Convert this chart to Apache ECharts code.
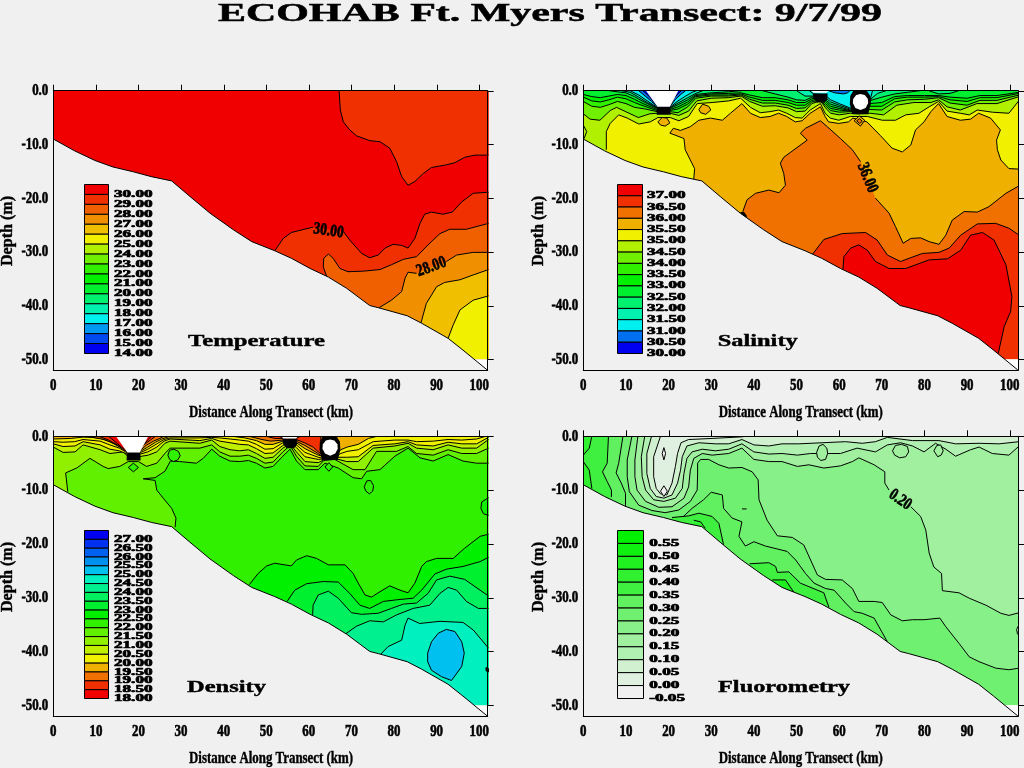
<!DOCTYPE html>
<html><head><meta charset="utf-8">
<style>html,body{margin:0;padding:0;background:#f0f0f0}#c{width:1024px;height:768px}</style>
<script src="https://cdn.jsdelivr.net/npm/echarts@6/dist/echarts.min.js"></script>
</head><body><div id="c"></div>
<script>
// ---------- axis values ----------
const xTicks=[0,10,20,30,40,50,60,70,80,90,100];
const yTicks=[0,-10,-20,-30,-40,-50];
// ---------- sea floor ----------
const seafloor=[[0,-9],[5,-11.2],[9.8,-13],[14,-14.2],[18.8,-15.1],[23,-16],[27.8,-16.8],[32.1,-19.7],[36.8,-22.8],[42.3,-25.9],[46.6,-28.1],[52,-29.8],[55.9,-31.2],[60.3,-33.1],[64.6,-34.7],[68.9,-36.8],[74.3,-40],[76.3,-40.4],[83.1,-41.9],[86.5,-43.3],[92.7,-46.1],[96.2,-48.3],[101.9,-52]];
// null = break in the contour line; the run after the last null only closes the fill.
const water=[null,[0,0],[102.2,0],[102.2,-50],[0,-50]];
const belowData=[null,[85,-50],[102.2,-50],[102.2,-53],[85,-53]];
const land=[...seafloor,null,[102.5,-60],[0,-60]];
const holeA=[null,[14.7,0],[17.4,-3],[20.3,-3],[22.3,0]];
const blobA=[null,[17.3,-3],[20.4,-3],[20.5,-4.5],[17.2,-4.5]];
const holeB=[null,[53.5,0],[54,-0.4],[57,-0.4],[57.5,0]];
const blobB=[null,[53.8,-0.5],[57.3,-0.5],[57.2,-1.6],[56.5,-2.2],[54.8,-2.2],[54,-1.5]];
const blobC=[null,[63.3,0],[62.6,-1],[62.5,-2.5],[63.1,-4.4],[66.8,-4.4],[67.4,-2.5],[67.3,-1],[66.5,0]];
const holeC=[null,[65,-0.6],[64,-0.8],[63.3,-1.5],[63.2,-2.3],[63.8,-3.2],[65,-3.6],[66.2,-3.2],[66.8,-2.3],[66.7,-1.5],[66,-0.8]];
const loop=r=>[...r,r[0],null];

// ---------- temperature contours ----------
const t29a=[[67.1,0],[67.4,-3.6],[68.1,-5.8],[69.6,-7.3],[71.2,-8.4],[74.3,-9.3],[76.7,-9.5],[79,-10.7],[80.6,-13.2],[81.8,-16],[83.3,-17.6],[84.9,-16.9],[86.9,-15.4],[88.8,-14.3],[92.3,-13.8],[94.3,-13.4],[96.6,-12.4],[99,-12],[102.2,-12],null,[102.2,0]];
const t29b=[[52,-29.8],[54,-27.5],[55.9,-26.4],[61,-25.4],null,[68.1,-26.2],[69.6,-27.8],[72.4,-30.3],[74.3,-31.1],[76.3,-30.6],[77.9,-29.3],[79.8,-28.6],[81.8,-28.8],[83.3,-29.3],[84.9,-27.5],[86.1,-24.7],[87.2,-23],[88.8,-22.6],[91.5,-23],[93.7,-22.6],[95.9,-20.7],[98.6,-19.1],[102.2,-18.9],null,[102.2,-50],[52,-50]];
const t28=[[64.2,-34.6],[63.4,-32.8],[63.5,-31.2],[64.6,-30.4],[65.7,-31.2],[67.3,-33.1],[69.2,-33.7],[72.8,-33.6],[76.7,-33.3],[79.4,-32.4],[82.2,-31.4],[85.3,-30.9],[88,-28.7],[90.8,-26.6],[93.1,-25.8],[97,-25.8],[102.2,-24.7],null,[102.2,-50],[64.2,-50]];
const t27=[[76.5,-40.4],[79.4,-39],[81.8,-37.4],[82.6,-34.9],[83.3,-33.8],[85.3,-34],null,[92.3,-31.8],[94.7,-30.6],[98.6,-30.1],[102.2,-30.1],null,[102.2,-50],[76.5,-50]];
const t26=[[86.3,-43.3],[87.6,-39.6],[90,-36.5],[91.9,-35.7],[95.5,-35.2],[98.6,-34.3],[102.2,-33.3],null,[102.2,-50],[86.3,-50]];
const t25=[[92.7,-46.1],[93.9,-43.6],[95.5,-40.8],[98.6,-39],[102.2,-38.2],null,[102.2,-50],[92.7,-50]];

// ---------- salinity contours ----------
const s35=[[25.9,-16.5],[26.1,-14.5],[23.9,-11],[23.6,-8.9],[20.3,-7.9],[21.1,-7],[22.8,-7.4],[25.1,-6.7],[27.1,-5.5],[29.8,-5.1],[32.6,-5.5],[34.5,-4.2],[37.2,-2.4],[39.2,-4.2],[41.5,-5],[43.8,-4.8],[45.8,-4.2],[47.7,-4.8],[49.7,-5.8],[51.3,-5.6],[53.2,-4.2],[55.6,-3],[56.7,-4.8],[57.5,-5.8],[59.9,-6.1],[62.2,-5.8],[63.2,-5.1],[66.5,-5.8],[69.6,-8.3],[72.4,-10.7],[74.8,-11.4],[76.8,-10.1],[77.9,-7.3],[79.9,-5.8],[81.5,-3.9],[83.3,-2.4],[85.3,-4.8],[88.4,-5.5],[90.8,-5.3],[92.7,-4.2],[95.5,-5.1],[97.8,-7.3],[96.9,-9.2],[97.1,-11],[97.9,-12.9],[99.8,-14.5],[102.2,-14.6],null,[102.2,0],[0,0],[0,-20],[25.9,-20]];
const s34h=[[5.4,-11],[5.4,-7.6],[6.3,-6.1],[8.3,-4.5],[10.3,-5.1],[13,-6.2],[15.7,-5.8],[17.5,-5],[20.4,-5],[22.4,-5.6],[24.7,-4.8],[26.7,-2.4],[30.2,-2.2],[34.1,-1.9],[36.9,-1.4],[39.2,-3.1],[41.5,-4.1],[43.8,-3.9],[45.8,-3.6],[47.7,-4.2],[49.7,-5],[51.3,-5.1],[53.2,-3.6],[55.6,-2.4],[56.7,-4.2],[57.9,-5.1],[59.9,-5.5],[62.6,-4.8],[66.6,-4.8],[70.1,-5.5],[73.2,-5.5],[75.6,-4.5],[78.7,-4.2],[81.1,-3],[83.3,-2],[85.3,-3.8],[88.4,-4.2],[90.5,-4.5],[92.4,-3.6],[95.9,-4],[99.8,-4.2],[102.2,-1.8],null,[102.2,0],[0,0],[0,-20],[5.4,-20]];
const s34=[[0,-4.3],[1.6,-5.3],[3.9,-5.5],[6.3,-3.7],[7.8,-3.1],[10.2,-4],[12.9,-5],[15.6,-4.3],[17.3,-4.2],[20.3,-4.2],[22.4,-4.6],[24.7,-3.8],[26.6,-1.9],[30,-1.4],[34,-1.3],[37,-1],[39,-2],[42,-2.9],[45,-2.8],[48,-3.2],[50,-3.9],[52,-3.8],[53.6,-2.4],[55.6,-1.9],[56.8,-3.2],[58,-4.2],[60,-4.5],[62.6,-4.2],[64.6,-4.3],[67.3,-4.2],[70.4,-4.5],[73.5,-2.7],[77.5,-2.2],[81.5,-2.2],[83.3,-1.7],[85.3,-3],[88.4,-3.6],[92.3,-2.4],[97,-2.4],[102.2,-1.1],null,[102.2,0],[0,0]];
const s33h=[[0,-2],[2,-2.9],[4,-3.1],[6,-2.6],[8,-2],[10,-2.4],[12,-3.1],[14.5,-3.4],[17.3,-3.9],[20.3,-3.9],[22.2,-4.1],[24.5,-3],[26.4,-1.4],[30,-1],[34,-1],[37,-0.8],[39,-1.6],[42,-2.3],[45,-2.3],[48,-2.7],[50,-3.3],[52,-3.2],[53.6,-2.1],[55.6,-1.7],[56.8,-2.8],[58,-3.7],[60,-4],[62.6,-3.9],[64.6,-4.1],[67,-3.5],[70,-3.6],[73,-2.1],[76,-1.7],[80,-1.6],[83.3,-1.3],[86,-2.3],[90,-2.7],[93,-1.8],[97,-1.8],[102.2,-0.8],null,[102.2,0],[0,0]];
const s33=[[0,-1.2],[2,-1.9],[4,-2.1],[6,-1.7],[8,-1.2],[10,-1.5],[12,-2.2],[14,-2.8],[17.3,-3.7],[20.3,-3.7],[22.2,-3.4],[24.5,-2.5],[26.4,-1.1],[30,-0.8],[34,-0.8],[37,-0.6],[39,-1.2],[42,-1.8],[45,-1.8],[48,-2.2],[50,-2.7],[52,-2.7],[53.6,-1.8],[55.6,-1.5],[56.8,-2.4],[58,-3.3],[60,-3.6],[62.6,-3.8],[64.6,-4],[67,-2.9],[70,-2.9],[73,-1.5],[76,-1.2],[80,-1.2],[83.3,-1.1],[86,-1.7],[90,-2],[93,-1.3],[97,-1.3],[102.2,-0.5],null,[102.2,0],[0,0]];
const s32h=[[0,-0.7],[2,-1.1],[4,-1.3],[6,-1],[8,-0.7],[10,-0.9],[12,-1.6],[14,-2.4],[17.3,-3.5],[20.3,-3.5],[22.2,-3],[24.5,-2.1],[26.4,-0.9],[30,-0.6],[34,-0.5],[37,-0.4],[39,-0.8],[42,-1.3],[45,-1.3],[48,-1.7],[50,-2.2],[52,-2.2],[53.6,-1.5],[55.6,-1.3],[56.8,-2],[58,-2.9],[60,-3.3],[62.6,-3.7],[64.6,-3.9],[67,-2.4],[70,-2.2],[73,-1.1],[76,-0.9],[80,-0.9],[83.3,-0.9],[86,-1.2],[90,-1.4],[93,-0.9],[97,-0.9],[102.2,-0.3],null,[102.2,0],[0,0]];
const s32a=[[6,0],[8,-0.2],[10,-0.4],[12,-1.1],[14,-2],[17.3,-3.3],[20.3,-3.3],[22.2,-2.6],[24.5,-1.7],[26.4,-0.7],[30,-0.4],[34,-0.2],[37,0],null];
const s32b=[[42,0],[45,-0.6],[48,-1.2],[50,-1.7],[52,-1.8],[53.6,-1.2],[55.6,-1.1],[56.8,-1.7],[58,-2.5],[60,-3],[62.6,-3.6],[64.6,-3.8],[67,-1.9],[70,-1.2],[73,-0.6],[76,-0.3],[79,0],null];
const s32c=[[81,0],[83.3,-0.6],[86,-0.5],[88,0],null];
const s31ha=[[9,0],[11,-0.3],[13,-1.2],[15,-2.2],[17.3,-3.2],[20.3,-3.2],[22.2,-2.3],[24.5,-1.3],[26.4,-0.5],[28,0],null];
const s31hb=[[50,0],[52,-1],[54,-1],[55.6,-0.9],[56.8,-1.3],[58,-2.1],[60,-2.7],[62.5,-3.4],[64.6,-3.7],[66.8,-3.4],[67.5,-1.5],[69,-0.5],[71,0],null];
const s31a=[[11,0],[13,-0.8],[15,-1.9],[17.3,-3.1],[20.3,-3.1],[22.2,-1.9],[24,-1],[25.5,-0.3],[26.5,0],null];
const s31b=[[53,0],[54,-0.6],[55.6,-0.7],[56.8,-0.9],[58,-1.7],[60,-2.4],[62.5,-3.2],[64.6,-3.6],[66.7,-3.2],[67.5,-1],[67.8,0],null];
const s30ha=[[13,0],[14.5,-1],[16,-2],[17.4,-3],[20.3,-3],[21.6,-1.6],[23,-0.6],[24,0],null];
const s30hb=[[57.5,0],[59,-0.4],[61,-0.6],[62,-0.4],[62.5,0],null];
const s30hc=[[66.5,-0.5],[67.3,-1.8],[66.7,-3],[66.2,-1.8],[66.5,-0.5],null];
const s30=[[14,0],[15.5,-1.1],[16.5,-2.1],[17.4,-3],[20.3,-3],[21.3,-1.4],[22.4,-0.4],[23,0],null];
const s36=[[37.4,-22.5],[38.4,-20.3],[40.4,-19.1],[43.5,-18.5],[45.9,-19],[47.4,-17.6],[47,-15.4],[46.2,-13.5],[47,-12.4],[49.4,-11],[52.5,-9.2],[50.9,-7.9],[52.1,-7],[55.6,-5.6],[57.2,-6.7],[60.3,-8.9],[63.1,-11],[65,-13.2],null,[68.5,-20],[71.7,-22.8],[73.2,-25.3],[75,-28.4],[76.8,-27.5],[79.1,-27.4],[81.1,-28.1],[83.4,-28.6],[85,-26.9],[86.5,-24.1],[89.3,-22.5],[92.4,-22.6],[95.1,-21.6],[99.1,-19.1],[102.2,-17.7],null,[102.2,-50],[37.4,-50]];
const s36h=[[53.8,-30.4],[56.4,-27.7],[60.7,-26.6],[66.2,-26.4],[68.9,-27.8],[71.3,-30.6],[74.4,-31.8],[76.4,-31.2],[79.5,-30.3],[83.4,-30.1],[85.8,-29.3],[88.5,-26.9],[92.4,-24.8],[96.7,-24.7],[99.8,-25.6],[102.2,-26.9],null,[102.2,-50],[53.8,-50]];
const s37=[[60.9,-33.2],[61.1,-30.9],[62.7,-29.3],[64.6,-28.7],[66.6,-29.7],[68.5,-31.8],[71.7,-33.1],[75.6,-33.1],[81.1,-31.5],[85.4,-31.3],[88.5,-29.7],[90.8,-26.9],[93.6,-26.4],[96.3,-27.8],[99.1,-32.4],[100.5,-38.3],[100.2,-41.1],[98.7,-43.9],[97.3,-48.9],null,[97.3,-52],[60.9,-52]];
const sIslandA=loop([[27.1,-3.5],[28,-2.5],[29.4,-2.9],[29.9,-3.6],[28.7,-4.4],[27.5,-4.1]]);
const sIslandB=loop([[17.5,-5.8],[18.5,-5],[19.6,-5.1],[20.3,-6],[19.2,-6.6],[18.1,-6.4]]);
const sIslandC=loop([[63.5,-5.6],[64.7,-4.7],[66,-5.5],[65,-6.6]]);
const sIslandD=loop([[64.1,-5.6],[64.8,-5.2],[65.4,-5.7],[64.8,-6.1]]);
const sArc=[[0,-6.4],[0.8,-7.6],[0.2,-8.9],null];
const sSpeck=loop([[36.9,-22.7],[37.6,-22.6],[38.3,-23.4],[37.8,-23.5]]);

// ---------- density contours ----------
const d22=[[28.6,-16.9],[28.8,-15.2],[27.8,-13.4],[25.8,-11.5],[24.3,-10],[23.9,-8.2],[21.1,-7.9],[23.9,-7.7],[26.2,-6.5],[27.5,-4.6],[29.7,-4.7],[33.6,-5],[35.2,-4.1],[37.2,-2.4],[39.1,-3.7],[41.5,-4.6],[43.8,-4.7],[45.8,-4.5],[47.7,-5],[49.7,-5.9],[51.6,-5.6],[53.9,-3.7],[55.6,-2.4],[57.1,-4.6],[59.1,-6.2],[62.2,-6.2],[63.8,-5],[66.9,-5.9],[70.4,-7.7],[72.4,-7.9],[73.6,-6.5],[76.7,-6.2],[80.2,-3.7],[83.3,-2.2],[86.1,-4],[89.2,-4.6],[92.7,-3.4],[96.2,-4.6],[99.4,-5],[102.2,-5],null,[102.2,0],[0,0],[0,-20],[28.6,-20]];
const d21h=[[3.4,-10.3],[2.9,-6.8],[5.5,-5.9],[8.6,-4.1],[11.7,-5.6],[12.9,-6],[15.6,-5.6],[17.6,-4.7],[20,-4.7],[21.9,-5.6],[24.3,-5],[26.2,-3.2],[27.4,-2.2],[31.3,-2.2],[34.4,-2.2],[37.2,-1.6],[39.1,-2.9],[41.5,-3.7],[43.8,-3.7],[45.8,-3.5],[47.7,-4.1],[49.7,-5],[51.6,-4.8],[53.9,-2.9],[55.6,-1.7],[57.1,-3.7],[59.1,-5.5],[62.2,-5.6],[63.5,-4.5],[66.1,-4.3],[70.4,-6.2],[73.2,-6.2],[75.9,-2.8],[80.6,-2.8],[83.3,-1.9],[85.3,-3.2],[89.2,-3.5],[92.7,-2.5],[95.9,-3.2],[99.4,-3.2],[102.2,-2.2],null,[102.2,0],[0,0],[0,-20],[3.4,-20]];
const d21=[[0,-2],[2.3,-3],[5.1,-2.9],[7,-1.6],[11,-2.5],[13.3,-3.2],[16.4,-2.9],[17.6,-3.8],[20,-3.8],[22.3,-3.5],[24.3,-2.9],[26.2,-1.3],[27.4,-0.9],[34.4,-1.3],[37.2,-0.7],[39.1,-1.9],[41.5,-2.5],[43.8,-2.7],[45.8,-2.5],[47.7,-3.2],[49.7,-4.1],[51.6,-3.9],[53.9,-2.2],[55.6,-1.4],[57.1,-2.9],[59.1,-4.7],[62.2,-4.9],[63.5,-4.4],[66.1,-4.1],[68.9,-4.7],[71.6,-4.7],[75.1,-2.2],[80.2,-1.8],[83.3,-1.3],[85.3,-2.2],[89.2,-2.5],[92.7,-1.6],[95.9,-2.2],[99.4,-2.2],[102.2,-0.6],null,[102.2,0],[0,0]];
const d20h=[[0,-1.4],[2.3,-1.9],[5.1,-1.8],[7,-1],[11,-1.6],[13.3,-2.4],[15.5,-2.7],[17.6,-3.4],[20,-3.4],[22.2,-2.9],[24.3,-2],[26,-0.9],[27.4,-0.5],[34.4,-0.8],[37.2,-0.4],[39.1,-0.9],[41.5,-1.2],[43.8,-1.5],[45.8,-1.6],[47.7,-2.3],[49.7,-3.2],[51.6,-3.1],[53.9,-1.7],[55.6,-1.1],[57.1,-2.1],[59.1,-3.8],[62.2,-4.3],[63.5,-4.2],[66.1,-3.9],[68.9,-3.9],[71.6,-3.8],[75.1,-1.7],[80.2,-1.4],[83.3,-1],[85.3,-1.6],[89.2,-1.8],[92.7,-1.1],[95.9,-1.4],[99.4,-1.4],[102.2,-0.2],null,[102.2,0],[0,0]];
const d20=[[0,-1],[2.3,-1.1],[5,-1],[7,-0.6],[11,-0.9],[13.3,-1.6],[15.5,-2.2],[17.6,-3.2],[20,-3.2],[22.2,-2.4],[24.3,-1.4],[26,-0.6],[27.4,-0.3],[34,-0.3],[37.2,-0.2],[39,-0.3],[41.5,-0.5],[43.8,-0.7],[45.8,-0.9],[47.7,-1.5],[49.7,-2.4],[51.6,-2.3],[53.9,-1.2],[55.6,-0.9],[57.1,-1.6],[59.1,-3],[62.2,-3.9],[63.5,-4.1],[66.1,-3.8],[67.5,-3.2],[69,-2.8],[71.6,-2.5],[75.1,-1],[80.2,-0.7],[83.3,-0.7],[85.3,-1],[89.2,-0.9],[92.7,-0.6],[95.9,-0.7],[99.4,-0.5],[101.5,0],null,[0,0]];
const d195a=[[0,-0.5],[4,-0.4],[7,-0.15],[9,-0.2],[11,-0.4],[13.3,-1],[15.5,-1.8],[17.6,-3],[20,-3],[22.2,-2],[24,-1.1],[25.5,-0.5],[27,-0.1],[28,0],null,[0,0]];
const d195b=[[42,0],[45,-0.3],[47.7,-0.8],[49.7,-1.5],[51.6,-1.5],[53.9,-0.9],[55.6,-0.8],[57.1,-1.2],[59.1,-2.3],[62.2,-3.5],[64.7,-4],[66.5,-3.4],[67.5,-2.5],[69,-2],[71.6,-1.5],[74,-0.4],[76,0],null];
const d19a=[[4,0],[8,-0.05],[10,-0.3],[12,-0.6],[14,-1.3],[15.8,-2.1],[17.6,-2.9],[20,-2.9],[21.8,-1.7],[23.5,-0.9],[25,-0.4],[26,0],null];
const d19b=[[46,0],[49,-0.6],[51,-0.9],[54,-0.7],[55.6,-0.7],[57,-0.9],[59.1,-1.7],[62.2,-3.2],[63,-3.7],[63.8,-0.5],[63,0],null];
const d185a=[[9,0],[11,-0.1],[13,-0.7],[15,-1.6],[16.8,-2.7],[17.6,-2.8],[20,-2.8],[21.4,-1.5],[22.8,-0.7],[24,0],null];
const d185b=[[50,0],[52,-0.4],[54,-0.4],[55,-0.5],[57,-0.6],[59,-1.2],[61,-2],[62.4,-3],[63,-3.3],[62.8,0],null];
const d18a=[[13,0],[14.5,-1],[16,-2],[17.4,-2.7],[20.2,-2.7],[21.2,-1.5],[22.3,-0.6],[23,0],null];
const d18b=[[53,0],[54,-0.3],[57,-0.4],[58,0],null];
const d23=[[46,-27.6],[48.1,-25.5],[50.1,-24.1],[52,-23.6],[55.9,-24.1],[57.1,-23],[59.5,-22.2],[61.8,-22.7],[64.6,-23.9],[68.5,-23.9],[70.4,-25.5],[71.6,-27.3],[73.2,-29.5],[74.7,-29.9],[76.7,-28.9],[79,-27.8],[81.4,-28.6],[83.3,-29.1],[84.9,-27.3],[86.5,-24.2],[87.6,-23.3],[90,-22.7],[93.9,-22.7],[96.6,-20.8],[100.2,-18.6],[102.2,-18.2],null,[102.2,-50],[46,-50]];
const d235=[[54.9,-30.7],[56.7,-28.6],[59.5,-27.4],[63.4,-27],[66.9,-27.1],[69.6,-29.2],[72,-31.4],[74.3,-32],[77.5,-30.7],[80.6,-30.4],[84.5,-30.1],[86.5,-28.6],[89.6,-25.6],[92.3,-24.7],[96.2,-24.2],[100.2,-23.3],[102.2,-22.5],null,[102.2,-50],[54.9,-50]];
const d24=[[60.9,-33.2],[61,-31.4],[62.2,-29.5],[64.6,-28.8],[66.9,-30.1],[70,-32.8],[72.4,-33.1],[76.3,-32.9],[79.4,-32],[82.2,-31.2],[85.3,-31],[88,-29.2],[90,-26.7],[93.1,-26],[96.6,-26.6],[100.2,-28.6],[102.2,-29.7],null,[102.2,-50],[60.9,-50]];
const d245=[[68.7,-36.7],[71.2,-35.3],[74.3,-34.3],[77.5,-34.5],[80.6,-33.2],[84.5,-32],[88.4,-31.4],[90.8,-29.2],[92.7,-28.1],[94.7,-28.6],[97,-30.7],[99.8,-32],[102.2,-32],null,[102.2,-50],[68.7,-50]];
const d25=[[76.9,-40.5],[78.6,-39.1],[81.8,-37.9],[82.6,-35.1],[83.3,-33.8],[86,-34.8],[90.8,-34.4],[96.2,-34.6],[98.6,-36],[102.2,-39.4],null,[102.2,-50],[76.9,-50]];
const d255=loop([[87.9,-40.3],[88.8,-38.2],[90.4,-36.6],[92.3,-35.9],[94.3,-36.3],[95.9,-38.2],[96.5,-40.3],[95.9,-42.8],[93.5,-45.4],[91.2,-44.7],[88.8,-43.5],[87.9,-41.9]]);
const dIslandA=loop([[26.9,-3.5],[27.3,-2.6],[28.3,-2.4],[29.4,-2.8],[29.8,-3.6],[29.2,-4.4],[28.2,-4.7],[27.3,-4.3]]);
const dIslandB=loop([[17.6,-5.8],[18.8,-5],[20,-5.8],[18.8,-6.6]]);
const dIslandC=loop([[63.8,-5.7],[64.7,-4.9],[65.6,-5.7],[64.7,-6.5]]);
const dIslandD=loop([[73,-9.4],[73.6,-8.3],[74.5,-8.2],[75.2,-9.2],[75,-10.2],[74.2,-10.7],[73.4,-10.2]]);
const dIslandE=[[102.2,-11.4],[100.6,-12.2],[100.4,-13.4],[101,-14.4],[102.2,-14.7],null];
const dSpeck=loop([[101.6,-43],[102.2,-43.2],[102.2,-43.8],[101.6,-43.6]]);

// ---------- fluorometry contours ----------
const f020=[[11.4,0],[10.3,-4.4],[10.3,-7.5],[10.8,-10.3],[13,-12.8],[16.1,-13.8],[19.2,-14.2],[22.4,-13.7],[25.1,-12.1],[26.7,-10],[26.8,-7.2],[26.8,-5],[27.5,-4.3],[29.4,-4.3],[31.8,-5.3],[34.1,-5.9],[37.2,-5.8],[39.6,-6.6],[41,-8.1],[41.2,-11.8],[43.1,-15.6],[45.5,-18.5],[49,-18.8],[51.7,-20.2],[53.3,-23],[54.9,-25.8],[56.8,-26.6],[60.7,-26.7],[63.1,-28.3],[64.6,-30.7],[68.2,-30.7],[70.1,-30.9],[72.1,-33.2],[74.8,-34.3],[77.2,-34.1],[79.9,-34.1],[83.6,-33.8],[85,-35.4],[88.1,-38.5],[90.5,-41],[92.8,-41.9],[96.7,-43.1],[99.8,-43.4],[102.2,-43.1],null,[102.2,0]];
const f015=[[12.8,0],[12.1,-4.4],[12.1,-7.5],[12.6,-10],[14.6,-12.1],[17.7,-13.2],[20.8,-13.1],[23.6,-11.5],[24.7,-9.4],[25.1,-6.3],[25.9,-4.1],[27.9,-3.2],[30.2,-3.5],[34.1,-3.2],[37.2,-2.2],[40,-4.3],[43.5,-4.7],[46.6,-4.7],[50.2,-5.6],[52.9,-5.3],[56.4,-5.9],[60.3,-5.5],[63.1,-4.7],[64.6,-4],[68.2,-5.3],[70.7,-6.6],[70.7,-8.7],[71.7,-10],null,[76.8,-13.1],[79.1,-14.9],[80.3,-17.4],[81.1,-21.7],[82.2,-24.3],[84,-25.5],[84.2,-28.7],[88.1,-29.1],[90.5,-30.1],[94.4,-31.4],[97.9,-32.9],[99.8,-33.3],[102.2,-32.8],null,[102.2,0]];
const f010=[[14.4,0],[13.6,-3.8],[13.8,-7.5],[14.6,-10],[16.5,-11.8],[18.9,-12.1],[21.6,-11.5],[23.2,-9.7],[23.6,-6.9],[24.3,-4.1],[25.5,-2.9],[27.9,-2.4],[31,-2.7],[34.1,-2.4],[37.2,-1.4],[40,-2.9],[43.5,-3.3],[46.6,-3.2],[50.2,-3.5],[53.3,-3.2],[56,-3.2],[60.3,-3.2],[64.2,-2.2],[68.5,-2.9],[71.3,-1.6],[74.4,-1.2],[77.2,-1.8],[79.9,-2.9],[82.6,-1.3],[85,-2.4],[87.3,-3.7],[90.8,-2.5],[92.8,-2],[95.9,-3.2],[99.8,-3.5],[102.2,-1.8],null,[102.2,0]];
const f005=[[16,0],[14.9,-3.2],[14.9,-6.9],[15.7,-9.7],[17.1,-11.2],[18.9,-11.5],[20.8,-10.9],[22.1,-8.7],[22.8,-6.3],[23.2,-3.8],[24.3,-1.8],[27.1,-1.2],[31,-1.4],[34.1,-1.4],[37.2,-0.6],[40,-1.6],[43.5,-1.8],[46.6,-1.4],[50.5,-1.4],[56,-1.2],[61.5,-1],[65.4,-1.3],[68.5,-1],[71.3,-0.2],[77.2,-0.8],[83.4,-0.8],[87.3,-1.4],[92.8,-1.3],[97.5,-1.4],[102.2,-1],null,[102.2,0]];
const f000=[[18.1,0],[16.5,-3.8],[16.5,-7.5],[17.1,-9.7],[18.1,-10.7],[19.6,-10.9],[20.8,-8.7],[21.6,-5.6],[22.1,-3.2],[22.9,-1.2],[24.7,-0.6],[30.2,-0.4],[37.2,-0.1],[38,0],null];
const fLens=loop([[18.5,-3.2],[18.9,-2.1],[19.3,-3.2],[18.9,-4.4]]);
const fDiamond=loop([[18.1,-10.2],[18.9,-9.2],[19.7,-10.2],[18.9,-11.2]]);
const fIslandA=loop([[54.7,-3],[55.3,-1.8],[56.2,-1.5],[57.1,-2.2],[57.3,-3.2],[56.8,-4.3],[55.7,-4.5],[54.9,-3.9]]);
const fIslandB=loop([[72.5,-2.7],[73.2,-1.7],[74.6,-1.5],[76,-1.9],[76.3,-2.9],[75.6,-3.8],[74.2,-4],[73,-3.5]]);
const fIslandC=loop([[82.2,-2.7],[82.9,-1.7],[83.8,-1.6],[84.4,-2.7],[83.9,-3.5],[83.1,-3.8]]);
const fArc=[[102.2,-35],[101.6,-35.9],[101.8,-36.7],[102.2,-37.1],null];
const fTick=[[37.2,-13.5],[38.3,-13.5],null];
const f30a=[[9.3,0],[8.3,-5],[7.7,-6.8],[8.9,-8.7],[9.9,-10.6],[9.9,-13.2],null,[0,-20],[0,0]];
const f30b=[[23.2,-15.1],[25.5,-13.4],[28.2,-11.8],[30,-10.4],[32.6,-10.9],[32.9,-13.4],[34.9,-15.2],[37.2,-15.9],[36.5,-18.6],[38,-20.4],[40,-19.6],[42.7,-20.4],[47.8,-21.4],[49.8,-23],[52.1,-25.5],[54.1,-27.3],[56.8,-28.3],[58.8,-28.6],[61.5,-31],[63.5,-32.6],[65.4,-32.9],[68.2,-33.8],[71.3,-38.2],null,[71.3,-50],[23.2,-50]];
const f40a=[[5.9,0],[5.6,-5],[4.5,-6.6],[5.6,-8.4],[6.6,-10],[6.6,-11.3],null,[0,-20],[0,0]];
const f40b=[[20.8,-15.1],[24.7,-14.8],[27.1,-14.3],[30.2,-14.9],[31.8,-16.2],[32.9,-20.2],null,[32.9,-30],[20.8,-30]];
const f40c=[[39,-23.7],[43.5,-23.5],[45.1,-24.2],[45.5,-25.3],[48.2,-25.2],[50.9,-27.3],[56.4,-29.1],[57.6,-31.8],null,[57.6,-40],[39,-40]];
const f45a=[[2,0],[1.4,-2.2],[0,-3.5],null,[0,0]];
const f45b=[[0,-4.7],[1.4,-6.3],[2,-9.7],null,[2,-15],[0,-15]];
const f50a=[[25.9,-15.6],[27.5,-15.9],[28.6,-17.1],null,[28.6,-25],[25.9,-25]];
const f50b=[[44.3,-26.7],[47.4,-26.7],[49.4,-29],null,[49.4,-35],[44.3,-35]];

// ---------- legends ----------
const tempLevels=['30.00','29.00','28.00','27.00','26.00','25.00','24.00','23.00','22.00','21.00','20.00','19.00','18.00','17.00','16.00','15.00','14.00'];
const tempColors=['#f00000','#f03000','#f06000','#f09000','#f0c000','#f0f000','#b0f000','#70f000','#30f000','#00f000','#00f030','#00f070','#00f0b0','#00f0f0','#0098f0','#0048f0','#0000f0'];
const salLevels=['37.00','36.50','36.00','35.50','35.00','34.50','34.00','33.50','33.00','32.50','32.00','31.50','31.00','30.50','30.00'];
const salColors=['#f00000','#f03000','#f07000','#f0b000','#f0f000','#b0f000','#70f000','#30f000','#00f000','#00f030','#00f070','#00f0b0','#00f0f0','#0070f0','#0000f0'];
const denLevels=['27.00','26.50','26.00','25.50','25.00','24.50','24.00','23.50','23.00','22.50','22.00','21.50','21.00','20.50','20.00','19.50','19.00','18.50','18.00'];
const denColors=['#0000f0','#0030f0','#0060f0','#0090f0','#00c0f0','#00f0c0','#00f090','#00f060','#00f030','#00f000','#30f000','#60f000','#90f000','#c0f000','#f0f000','#f0b000','#f07000','#f03000','#f00000'];
const fluLevels=['0.55','0.50','0.45','0.40','0.35','0.30','0.25','0.20','0.15','0.10','0.05','0.00','-0.05'];
const fluColors=['#00f000','#10f010','#20f020','#30f030','#40f040','#60f060','#70f070','#88f088','#a0f0a0','#b0f0b0','#d0f0d0','#e0f0e0','#f0f0f0'];
// ---------- contour labels ----------
const tempLabels=[[64.6,-26.1,'30.00'],[88.8,-32.8,'28.00']];
const salLabels=[[66.6,-16.2,'36.00']];
const fluLabels=[[74.3,-11.8,'0.20']];

// ---------- drawing layers ----------
const BG='#f0f0f0',W='#ffffff',K='#000000';
const tempLayers=[[water,'#f00000'],[t29a,'#f03000'],[t29b,'#f03000'],[t28,'#f06000'],[t27,'#f09000'],[t26,'#f0c000'],[t25,'#f0f000']];
const salLayers=[[water,'#f0b000'],[s35,'#f0f000'],[s34h,'#b0f000'],[sArc,'#b0f000'],[s36,'#f07000'],[s36h,'#f03000'],[s37,'#f00000'],[sSpeck,K],
 [s34,'#70f000'],[s33h,'#30f000'],[s33,'#00f000'],[s32h,'#00f030'],[s32a,'#00f070'],[s32b,'#00f070'],[s32c,'#00f070'],[s31ha,'#00f0b0'],[s31hb,'#00f0b0'],[s31a,'#00f0f0'],[s31b,'#00f0f0'],[s30ha,'#0070f0'],[s30hb,'#0070f0'],[s30hc,'#0070f0'],[s30,'#0000f0'],
 [sIslandA,'#f0b000'],[sIslandB,'#f0b000'],[sIslandC,'#f0b000'],[sIslandD,'#f07000'],[blobA,K],[holeA,W],[blobB,K],[holeB,W],[blobC,K],[holeC,W]];
const denLayers=[[water,'#30f000'],[d22,'#60f000'],[d21h,'#90f000'],[d21,'#c0f000'],[d20h,'#f0f000'],[d20,'#f0f000'],[d195a,'#f0b000'],[d195b,'#f0b000'],[d19a,'#f07000'],[d19b,'#f07000'],[d185a,'#f03000'],[d185b,'#f03000'],[d18a,'#f00000'],[d18b,'#f00000'],
 [d23,'#00f000'],[d235,'#00f030'],[d24,'#00f060'],[d245,'#00f090'],[d25,'#00f0c0'],[d255,'#00c0f0'],[dSpeck,K],
 [dIslandA,'#30f000'],[dIslandB,'#30f000'],[dIslandC,'#30f000'],[dIslandD,'#30f000'],[dIslandE,'#10f000'],[blobA,K],[holeA,W],[blobB,K],[holeB,W],[blobC,K],[holeC,W]];
const fluLayers=[[water,'#70f070'],[f020,'#88f088'],[f015,'#a0f0a0'],[f010,'#b0f0b0'],[f005,'#d0f0d0'],[f000,'#e0f0e0'],[fLens,'#f0f0f0'],[fDiamond,'#f0f0f0'],
 [fIslandA,'#a0f0a0'],[fIslandB,'#a0f0a0'],[fIslandC,'#a0f0a0'],[fArc,'#a0f0a0'],[fTick,'#88f088'],
 [f30a,'#60f060'],[f30b,'#60f060'],[f40a,'#40f040'],[f40b,'#40f040'],[f40c,'#40f040'],[f45a,'#30f030'],[f45b,'#30f030'],[f50a,'#30f030'],[f50b,'#20f020']];

// ---------- layout ----------
const SERIF='"Liberation Serif","Times New Roman",serif';
const panels=[
 {l:53.3,r:487.7,t:90.7,b:370,layers:tempLayers,labels:tempLabels,rot:[-8,20],title:'Temperature',tx:[188,325],ty:341.5,lev:tempLevels,col:tempColors,bx:[84.5,108.5],by:[184.5,353.5],lx:114,nx:[189,353],ny:413,dx:8.3,dy:231},
 {l:583.3,r:1018.3,t:90.7,b:370,layers:salLayers,labels:salLabels,rot:[-68],title:'Salinity',tx:[717.7,797.7],ty:341.5,lev:salLevels,col:salColors,bx:[617.5,642.5],by:[184.5,353.5],lx:647,nx:[718.7,882.7],ny:413,dx:538.7,dy:231},
 {l:53.3,r:487.7,t:436.3,b:716,layers:denLayers,labels:[],rot:[],title:'Density',tx:[187,266],ty:687.5,lev:denLevels,col:denColors,bx:[84.5,108.5],by:[530.5,698.5],lx:114,nx:[189,353],ny:759,dx:8.3,dy:577},
 {l:583.3,r:1018.3,t:436.3,b:716,layers:fluLayers,labels:fluLabels,rot:[-35],title:'Fluorometry',tx:[718,850],ty:687.5,lev:fluLevels,col:fluColors,bx:[617.5,643.5],by:[530.5,698.5],lx:649.3,nx:[718.7,882.7],ny:759,dx:538.7,dy:577}
];
const ctx=document.createElement('canvas').getContext('2d');
function widthOf(t,font){ctx.font=font;return ctx.measureText(t).width;}
function stretched(t,font,x,y,w,strokeW){
 return {type:'text',x:x,y:y,scaleX:w/widthOf(t,font),z:20,silent:true,
  style:{text:t,font:font,fill:K,stroke:K,lineWidth:strokeW,textAlign:'left',textVerticalAlign:'middle'}};
}
const graphic=[stretched('ECOHAB Ft. Myers Transect: 9/7/99','bold 25px '+SERIF,218,15,664,0.5)];
const legendFont='bold 10px '+SERIF, legendScale=38.5/widthOf('30.00',legendFont);
const tickFont='bold 17px '+SERIF;
const tickText=(t,x,y,align)=>({type:'text',x:x,y:y,scaleX:0.76,style:{text:t,font:tickFont,fill:K,stroke:K,lineWidth:0.6,textAlign:align,textVerticalAlign:'middle'}});
const tickLine=(x1,y1,x2,y2)=>({type:'line',shape:{x1:x1,y1:y1,x2:x2,y2:y2},style:{stroke:K,lineWidth:1}});
const grid=[],xAxis=[],yAxis=[],series=[];
panels.forEach((p,i)=>{
 grid.push({left:p.l,top:p.t,width:p.r-p.l,height:p.b-p.t,outerBoundsMode:'none'});
 const ln={show:true,onZero:false,lineStyle:{color:K,width:1}};
 const base={type:'value',min:0,max:102,gridIndex:i,z:6,splitLine:{show:false},axisLine:ln,axisTick:{show:false},axisLabel:{show:false}};
 xAxis.push({...base,position:'bottom'},{...base,position:'top'});
 const ybase={type:'value',min:-52,max:0,gridIndex:i,z:6,splitLine:{show:false},axisLine:ln,axisTick:{show:false},axisLabel:{show:false}};
 yAxis.push({...ybase,position:'left'},{...ybase,position:'right'});
 const layers=[...p.layers,[belowData,W],[land,BG]];
 const bind={type:'custom',coordinateSystem:'cartesian2d',xAxisIndex:2*i,yAxisIndex:2*i,silent:true,animation:false};
 series.push({...bind,clip:true,z:2,
  data:layers.map((_,k)=>[k,0]),encode:{x:0,y:1},
  renderItem:(params,api)=>{
   const [ring,color]=layers[params.dataIndex];
   const all=ring.filter(q=>q).map(q=>api.coord(q));
   const children=[{type:'polygon',shape:{points:all},style:{fill:color,stroke:null}}];
   let run=[];
   ring.forEach(q=>{ if(q===null){ if(run.length>1) children.push({type:'polyline',shape:{points:run},style:{fill:'none',stroke:K,lineWidth:1}}); run=[]; } else run.push(api.coord(q)); });
   return {type:'group',children};
  }});
 // x ticks along the top, x labels along the bottom
 series.push({...bind,clip:false,z:8,data:xTicks.map(v=>[v,0]),encode:{x:0,y:1},
  renderItem:(params,api)=>{
   const v=xTicks[params.dataIndex],a=api.coord([v,0]),b=api.coord([v,-52]),x=Math.round(a[0])+0.5;
   return {type:'group',children:[tickLine(x,a[1],x,a[1]-6),tickText(String(v),a[0],b[1]+16,'center')]};
  }});
 // y ticks along the right, y labels along the left
 series.push({...bind,clip:false,z:8,data:yTicks.map(v=>[0,v]),encode:{x:0,y:1},
  renderItem:(params,api)=>{
   const v=yTicks[params.dataIndex],a=api.coord([102,v]),b=api.coord([0,v]),y=Math.round(a[1])+0.5;
   return {type:'group',children:[tickLine(a[0],y,a[0]+6,y),tickText(v.toFixed(1),b[0]-5,b[1],'right')]};
  }});
 if(p.labels.length) series.push({...bind,z:4,data:p.labels,encode:{x:0,y:1},
  renderItem:(params,api)=>{
   const d=p.labels[params.dataIndex],c=api.coord([d[0],d[1]]);
   return {type:'text',x:c[0],y:c[1],rotation:p.rot[params.dataIndex]*Math.PI/180,scaleX:0.8,
    style:{text:d[2],font:'bold 17px '+SERIF,fill:K,stroke:K,lineWidth:0.6,textAlign:'center',textVerticalAlign:'middle'}};
  }});
 graphic.push(stretched(p.title,'bold 17px '+SERIF,p.tx[0],p.ty,p.tx[1]-p.tx[0],0.4));
 // axis names
 graphic.push(stretched('Distance Along Transect (km)','bold 16px '+SERIF,p.nx[0],p.ny,p.nx[1]-p.nx[0],0.4));
 const dn=stretched('Depth (m)','bold 16px '+SERIF,p.dx,p.dy,70,0.4);
 dn.rotation=Math.PI/2; dn.style.textAlign='center';
 graphic.push(dn);
 const n=p.lev.length,h=(p.by[1]-p.by[0])/n;
 p.lev.forEach((t,k)=>{
  graphic.push({type:'rect',z:20,silent:true,shape:{x:p.bx[0],y:p.by[0]+k*h,width:p.bx[1]-p.bx[0],height:h},style:{fill:p.col[k],stroke:K,lineWidth:1}});
  graphic.push({type:'text',z:20,silent:true,x:p.lx,y:p.by[0]+(k+1)*h,scaleX:legendScale,style:{text:t,font:legendFont,fill:K,stroke:K,lineWidth:0.7,textAlign:'left',textVerticalAlign:'middle'}});
 });
});
const chart=echarts.init(document.getElementById('c'),null,{renderer:'canvas',width:1024,height:768});
chart.setOption({backgroundColor:BG,animation:false,grid,xAxis,yAxis,series,graphic});
</script></body></html>
